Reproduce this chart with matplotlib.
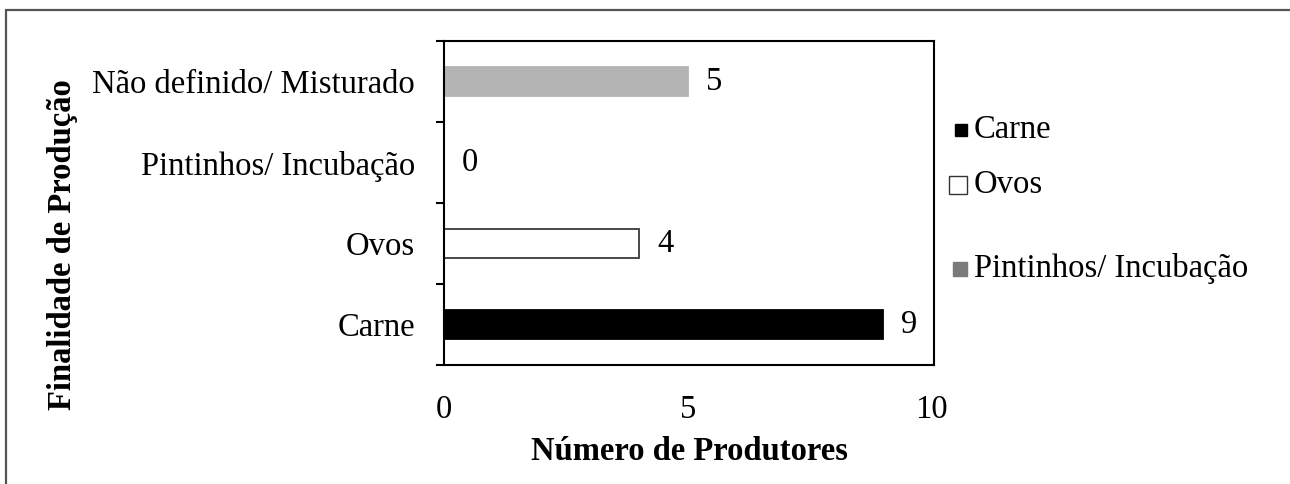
import matplotlib
matplotlib.use("Agg")
import matplotlib.pyplot as plt
from matplotlib.patches import Rectangle

# Number of producers per production purpose
categories = ["Carne", "Ovos", "Pintinhos/ Incubação", "Não definido/ Misturado"]
producers = [9, 4, 0, 5]
bar_colors = ["#000000", "#ffffff", "#808080", "#b4b4b4"]
bar_edges = ["#000000", "#3a3a3a", "#808080", "#b4b4b4"]

legend_labels = ["Carne", "Ovos", "Pintinhos/ Incubação"]
legend_colors = ["#000000", "#ffffff", "#7a7a7a"]
legend_edges = ["#000000", "#333333", "#7a7a7a"]

x_ticks = [0, 5, 10]

plt.rcParams["font.family"] = ["Liberation Serif", "DejaVu Serif"]
FS = 23.5

W, H = 1290, 484
fig = plt.figure(figsize=(W / 100, H / 100), dpi=100)


def fx(px):
    return px / W


def fy(py):
    return 1 - py / H


ax = fig.add_axes([fx(444), fy(365), fx(934) - fx(444), fy(41) - fy(365)])

pos = list(range(len(categories)))
ax.barh(pos, producers, height=0.36, color=bar_colors, edgecolor=bar_edges,
        linewidth=1.3, zorder=2)

for i, v in zip(pos, producers):
    ax.annotate(str(v), (v, i), xytext=(13, 0), textcoords="offset points",
                ha="left", va="center", fontsize=FS)

ax.set_xlim(0, 10.05)
ax.set_ylim(-0.5, len(categories) - 0.5)

ax.set_xticks(x_ticks)
ax.set_xticklabels([str(t) for t in x_ticks], fontsize=FS)
ax.tick_params(axis="x", length=0, pad=21)

ax.set_yticks([p - 0.5 for p in pos] + [len(categories) - 0.5])
ax.set_yticklabels([])
ax.tick_params(axis="y", which="major", length=6, width=1.5, direction="out")
ax.set_yticks(pos, minor=True)
ax.set_yticklabels(categories, minor=True, fontsize=FS)
ax.tick_params(axis="y", which="minor", length=0, pad=21)

for s in ax.spines.values():
    s.set_linewidth(1.5)
    s.set_color("#000000")

ax.set_xlabel("Número de Produtores", fontsize=FS, fontweight="bold", va="center")
ax.xaxis.set_label_coords(0.5, (365 - 452) / 324)
ax.set_ylabel("Finalidade de Produção", fontsize=FS, fontweight="bold", va="center")
ax.yaxis.set_label_coords((62 - 444) / 490, (365 - 245) / 324)

# Legend drawn beside the axes
legend_y = [130, 185, 269]
legend_sq = [12, 18, 14]
for lab, col, ec, yy, sq in zip(legend_labels, legend_colors, legend_edges,
                                legend_y, legend_sq):
    fig.patches.append(Rectangle((fx(967 - sq), fy(yy + sq / 2)), sq / W, sq / H,
                                 transform=fig.transFigure, facecolor=col,
                                 edgecolor=ec, linewidth=1.0))
    fig.text(fx(974), fy(yy), lab, fontsize=FS, ha="left", va="center")

# Outer frame
fig.patches.append(Rectangle((fx(6), fy(H + 5)), fx(W + 10) - fx(6), fy(10) - fy(H + 5),
                             transform=fig.transFigure, fill=False,
                             edgecolor="#555555", linewidth=1.6))

fig.savefig("out.png", dpi=100)
